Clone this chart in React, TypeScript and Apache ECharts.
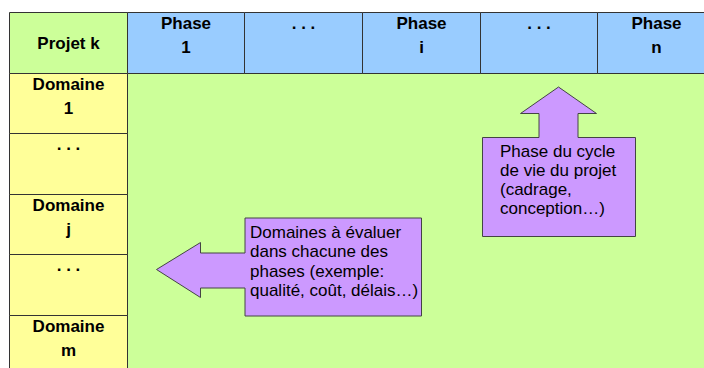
import React, { useEffect, useRef } from "react";
import * as echarts from "echarts";

// ---- content ----
const cornerLabel = "Projet k";
const phaseLabels = ["Phase\n1", ". . .", "Phase\ni", ". . .", "Phase\nn"];
const domainLabels = ["Domaine\n1", ". . .", "Domaine\nj", ". . .", "Domaine\nm"];
const domainNote = ["Domaines à évaluer", "dans chacune des", "phases (exemple:", "qualité, coût, délais…)"];
const phaseNote = ["Phase du cycle", "de vie du projet", "(cadrage,", "conception…)"];

// ---- styles ----
const GREEN = "#CCFF99";
const BLUE = "#99CCFF";
const YELLOW = "#FFFF99";
const PURPLE = "#CC99FF";
const BORDER = "#333333";
const FONT = '"Liberation Sans", Arial, Helvetica, sans-serif';

type Cell = { col: number; row: number; cw: number; rh: number; fill: string; label: string; center: boolean };

function buildCells(): Cell[] {
  const cells: Cell[] = [];
  const nCols = phaseLabels.length;
  const nRows = domainLabels.length;
  // body area
  cells.push({ col: 1, row: 1, cw: nCols, rh: nRows, fill: GREEN, label: "", center: false });
  // corner
  cells.push({ col: 0, row: 0, cw: 1, rh: 1, fill: GREEN, label: cornerLabel, center: true });
  phaseLabels.forEach((l, i) => cells.push({ col: i + 1, row: 0, cw: 1, rh: 1, fill: BLUE, label: l, center: false }));
  domainLabels.forEach((l, i) => cells.push({ col: 0, row: i + 1, cw: 1, rh: 1, fill: YELLOW, label: l, center: false }));
  return cells;
}

export default function App() {
  const ref = useRef<HTMLDivElement>(null);
  useEffect(() => {
    if (!ref.current) return;
    const chart = echarts.init(ref.current, undefined, { renderer: "svg" });
    const cells = buildCells();
    const nCols = phaseLabels.length + 1;
    const nRows = domainLabels.length + 1;

    const renderItem = (params: any, api: any) => {
      const c = cells[params.dataIndex];
      const p0 = api.coord([api.value(0), api.value(1)]);
      const p1 = api.coord([api.value(0) + api.value(2), api.value(1) + api.value(3)]);
      const x0 = Math.round(p0[0]) + 0.5;
      const y0 = Math.round(p0[1]) + 0.5;
      const x1 = Math.round(p1[0]) + 0.5;
      const y1 = Math.round(p1[1]) + 0.5;
      const children: any[] = [
        {
          type: "rect",
          shape: { x: x0, y: y0, width: x1 - x0, height: y1 - y0 },
          style: { fill: c.fill, stroke: BORDER, lineWidth: 1 },
        },
      ];
      if (c.label) {
        children.push({
          type: "text",
          x: (x0 + x1) / 2,
          y: c.center ? (y0 + y1) / 2 : y0 - 1,
          style: {
            text: c.label,
            fill: "#000",
            fontFamily: FONT,
            fontWeight: "bold",
            fontSize: 17,
            lineHeight: 24,
            align: "center",
            verticalAlign: c.center ? "middle" : "top",
          },
        });
      }
      return { type: "group", children };
    };

    const leftCallout = [
      [245, 218], [421.5, 218], [421.5, 316], [245, 316], [245, 288], [200.5, 288],
      [200.5, 297.5], [156.5, 269.5], [200.5, 242.5], [200.5, 253], [245, 253],
    ];
    const upCallout = [
      [482.5, 137.5], [539, 137.5], [539, 113.5], [520.5, 113.5], [558.5, 87], [596.5, 113.5],
      [578, 113.5], [578, 137.5], [635.5, 137.5], [635.5, 236.5], [482.5, 236.5],
    ];

    chart.setOption({
      animation: false,
      backgroundColor: "#ffffff",
      grid: { left: 9, top: 12, width: 706, height: 363.6, outerBoundsMode: "none", containLabel: false },
      xAxis: { type: "value", min: 0, max: nCols, show: false },
      yAxis: { type: "value", min: 0, max: nRows, inverse: true, show: false },
      series: [
        {
          type: "custom",
          renderItem,
          clip: false,
          encode: { x: 0, y: 1 },
          data: cells.map((c) => [c.col, c.row, c.cw, c.rh]),
          silent: true,
        },
      ],
      graphic: [
        {
          type: "polygon",
          z: 10,
          shape: { points: leftCallout },
          style: { fill: PURPLE, stroke: "#444444", lineWidth: 1 },
        },
        {
          type: "polygon",
          z: 10,
          shape: { points: upCallout },
          style: { fill: PURPLE, stroke: "#444444", lineWidth: 1 },
        },
        {
          type: "text",
          z: 11,
          x: 250,
          y: 222.5,
          style: {
            text: domainNote.join("\n"),
            fill: "#000",
            fontFamily: FONT,
            fontSize: 17,
            lineHeight: 19.4,
            align: "left",
            verticalAlign: "top",
          },
        },
        {
          type: "text",
          z: 11,
          x: 500,
          y: 141.5,
          style: {
            text: phaseNote.join("\n"),
            fill: "#000",
            fontFamily: FONT,
            fontSize: 17,
            lineHeight: 19.1,
            align: "left",
            verticalAlign: "top",
          },
        },
      ],
    });
    return () => chart.dispose();
  }, []);
  return (
    <div style={{ position: "fixed", left: 0, top: 0, width: 704, height: 368 }}>
      <div ref={ref} style={{ width: 704, height: 368 }} />
    </div>
  );
}
